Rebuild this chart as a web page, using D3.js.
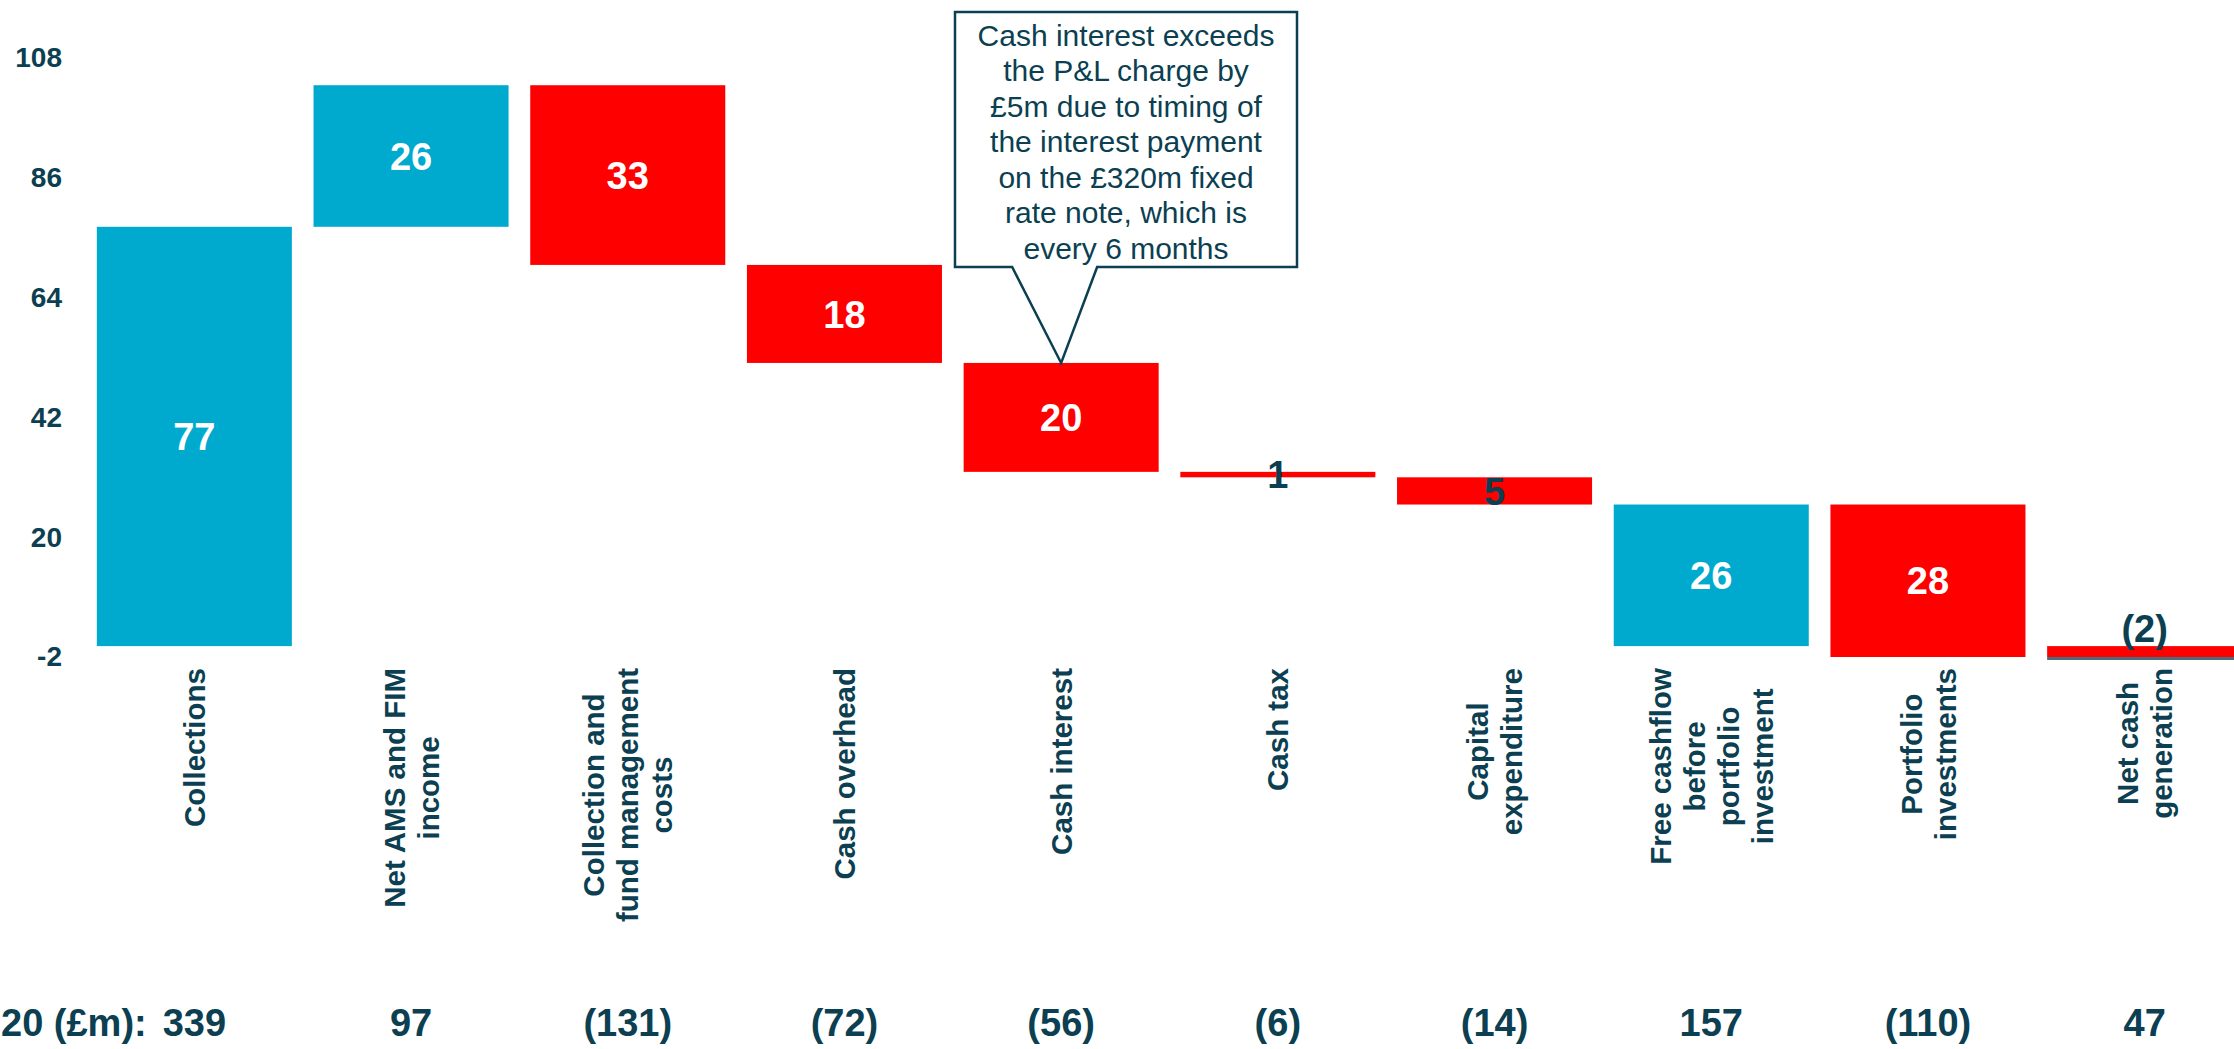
<!DOCTYPE html>
<html>
<head>
<meta charset="utf-8">
<script src="https://cdn.jsdelivr.net/npm/d3@7"></script>
<style>
  html, body { margin: 0; padding: 0; background: #fff; overflow: hidden; }
  svg { display: block; font-family: "Liberation Sans", Arial, sans-serif; }
</style>
</head>
<body>
<div id="chart"></div>
<script>
// Cash flow bridge (H1, £m) as a waterfall

const categories = [
  "Collections",
  "Net AMS and FIM|income",
  "Collection and|fund management|costs",
  "Cash overhead",
  "Cash interest",
  "Cash tax",
  "Capital|expenditure",
  "Free cashflow|before|portfolio|investment",
  "Portfolio|investments",
  "Net cash|generation",
];
// step kind: "delta" moves the running total, "total" shows it from zero
const kinds = ["delta", "delta", "delta", "delta", "delta", "delta", "delta", "total", "delta", "total"];
const changes = [77, 26, -33, -18, -20, -1, -5, 0, -28, 0];
// full-year figures shown along the bottom
const yearLabel = "20 (£m):";
const yearValues = [339, 97, -131, -72, -56, -6, -14, 157, -110, 47];
const yTicks = [-2, 20, 42, 64, 86, 108];
const calloutIndex = 4;
const calloutLines = [
  "Cash interest exceeds",
  "the P&L charge by",
  "£5m due to timing of",
  "the interest payment",
  "on the £320m fixed",
  "rate note, which is",
  "every 6 months",
];

const width = 2234;
const height = 1049;
const blue = "#00aacf";
const red = "#ff0000";
const ink = "#0b3f51";

// running totals -> bar extents
let run = 0;
const bars = categories.map((c, i) => {
  let y0, y1;
  if (kinds[i] === "total") {
    y0 = 0;
    y1 = run;
  } else {
    y0 = run;
    run += changes[i];
    y1 = run;
  }
  const value = kinds[i] === "total" ? y1 : changes[i];
  return { cat: c, i, y0, y1, value, kind: kinds[i] };
});

const x = d3
  .scaleBand()
  .domain(d3.range(categories.length))
  .range([86, 2253])
  .paddingInner(0.1)
  .paddingOuter(0.05);
const y = d3.scaleLinear().domain([-2, 108]).range([657, 58]);

const svg = d3
  .select("#chart")
  .append("svg")
  .attr("width", width)
  .attr("height", height);

svg.append("rect").attr("width", width).attr("height", height).attr("fill", "#fff");

// y axis: labels only
const yAxis = svg
  .append("g")
  .attr("transform", "translate(62,0)")
  .call(
    d3
      .axisLeft(y)
      .tickValues(yTicks)
      .tickFormat((d) => String(d))
      .tickSize(0)
      .tickPadding(0)
  );
yAxis.select(".domain").remove();
yAxis
  .selectAll("text")
  .attr("font-family", "Liberation Sans, Arial, sans-serif")
  .attr("font-size", 28)
  .attr("font-weight", "bold")
  .attr("fill", ink);

const barColor = (d) => (d.value >= 0 ? blue : red);

svg
  .append("g")
  .selectAll("rect")
  .data(bars)
  .enter()
  .append("rect")
  .attr("x", (d) => x(d.i))
  .attr("width", x.bandwidth())
  .attr("y", (d) => y(Math.max(d.y0, d.y1)))
  .attr("height", (d) => Math.abs(y(d.y0) - y(d.y1)))
  .attr("fill", barColor);

// thin base line under the negative total
bars
  .filter((d) => d.kind === "total" && d.value < 0)
  .forEach((d) => {
    svg
      .append("rect")
      .attr("x", x(d.i))
      .attr("width", x.bandwidth())
      .attr("y", y(d.y1))
      .attr("height", 3)
      .attr("fill", "#4a6c7b");
  });

// value labels
const fmt = (d) => {
  if (d.kind === "total" && d.value < 0) return `(${Math.abs(d.value)})`;
  return String(Math.abs(d.value));
};
svg
  .append("g")
  .selectAll("text")
  .data(bars)
  .enter()
  .append("text")
  .attr("x", (d) => x(d.i) + x.bandwidth() / 2)
  .attr("y", (d) => {
    if (d.kind === "total" && d.value < 0) return y(d.y0) - 4;
    return (y(d.y0) + y(d.y1)) / 2;
  })
  .attr("dy", (d) => (d.kind === "total" && d.value < 0 ? "0" : "0.36em"))
  .attr("text-anchor", "middle")
  .attr("font-size", 38)
  .attr("font-weight", "bold")
  .attr("fill", (d) => (Math.abs(y(d.y0) - y(d.y1)) < 45 ? ink : "#fff"))
  .text(fmt);

// category labels, rotated, block top-aligned under the axis, lines centred
const labelTop = 668;
const lineGap = 34;
const catG = svg.append("g");
bars.forEach((d) => {
  const lines = d.cat.split("|");
  const g = catG.append("g");
  const texts = lines.map((ln, k) =>
    g
      .append("text")
      .attr("text-anchor", "middle")
      .attr("font-size", 29.5)
      .attr("font-weight", "bold")
      .attr("fill", ink)
      .attr("x", 0)
      .attr("y", (k - (lines.length - 1) / 2) * lineGap)
      .attr("dy", "0.36em")
      .text(ln)
  );
  const longest = d3.max(texts, (t) => t.node().getComputedTextLength());
  g.attr(
    "transform",
    `translate(${x(d.i) + x.bandwidth() / 2},${labelTop + longest / 2}) rotate(-90)`
  );
});

// bottom row of full-year figures
const fmtYear = (v) => (v < 0 ? `(${Math.abs(v)})` : String(v));
const rowY = 1036;
svg
  .append("text")
  .attr("x", 1)
  .attr("y", rowY)
  .attr("font-size", 38)
  .attr("font-weight", "bold")
  .attr("fill", ink)
  .text(yearLabel);
svg
  .append("g")
  .selectAll("text")
  .data(yearValues)
  .enter()
  .append("text")
  .attr("x", (v, i) => x(i) + x.bandwidth() / 2)
  .attr("y", rowY)
  .attr("text-anchor", "middle")
  .attr("font-size", 38)
  .attr("font-weight", "bold")
  .attr("fill", ink)
  .text(fmtYear);

// callout on cash interest
const cb = bars[calloutIndex];
const tipX = x(cb.i) + x.bandwidth() / 2;
const tipY = y(Math.max(cb.y0, cb.y1));
const box = { x0: 955, x1: 1297, y0: 12, y1: 267 };
const path = d3.path();
path.moveTo(box.x0, box.y0);
path.lineTo(box.x1, box.y0);
path.lineTo(box.x1, box.y1);
path.lineTo(tipX + 36, box.y1);
path.lineTo(tipX, tipY);
path.lineTo(tipX - 49, box.y1);
path.lineTo(box.x0, box.y1);
path.closePath();
svg
  .append("path")
  .attr("d", path.toString())
  .attr("fill", "#fff")
  .attr("stroke", ink)
  .attr("stroke-width", 2.5)
  .attr("stroke-linejoin", "miter");

svg
  .append("g")
  .selectAll("text")
  .data(calloutLines)
  .enter()
  .append("text")
  .attr("x", (box.x0 + box.x1) / 2)
  .attr("y", (t, k) => 35 + k * 35.5)
  .attr("dy", "0.36em")
  .attr("text-anchor", "middle")
  .attr("font-size", 30)
  .attr("fill", ink)
  .text((t) => t);
</script>
</body>
</html>
